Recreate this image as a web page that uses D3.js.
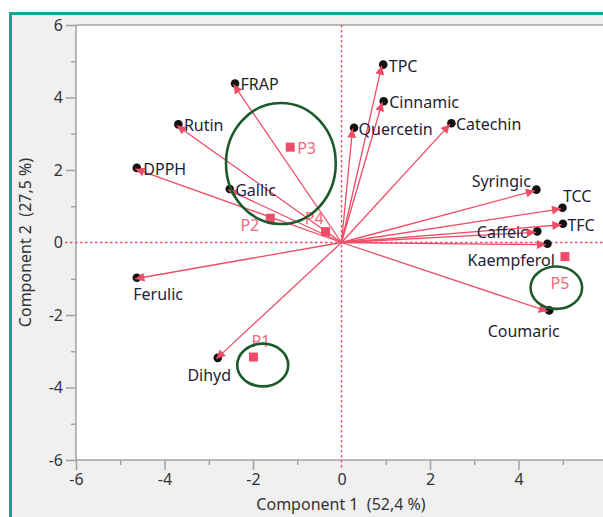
<!DOCTYPE html>
<html><head><meta charset="utf-8">
<script src="https://cdn.jsdelivr.net/npm/d3@7"></script>
<style>html,body{margin:0;padding:0;background:#fff;}svg{display:block;font-family:"Noto Sans","Open Sans",sans-serif;}</style>
</head><body>
<svg id="c" width="603" height="517"></svg>
<script>
// ---- data ----
const varNames = ["FRAP","Rutin","DPPH","Gallic","Ferulic","Dihyd","TPC","Cinnamic","Quercetin","Catechin","Syringic","TCC","TFC","Caffeic","Kaempferol","Coumaric"];
const varX = [-2.44,-3.72,-4.66,-2.56,-4.66,-2.83,0.91,0.92,0.25,2.45,4.37,4.96,4.97,4.39,4.62,4.66];
const varY = [4.36,3.23,2.03,1.45,-1.00,-3.21,4.88,3.87,3.14,3.26,1.43,0.93,0.49,0.28,-0.06,-1.90];
const sampleNames = ["P1","P2","P3","P4","P5"];
const sampleX = [-1.99,-1.61,-1.16,-0.36,5.05];
const sampleY = [-3.16,0.67,2.63,0.30,-0.39];
const ellipseCX = [-1.37,-1.78,4.855];
const ellipseCY = [2.18,-3.38,-1.247];
const ellipseRX = [1.24,0.576,0.583];
const ellipseRY = [1.67,0.59,0.585];
const majorTicks = [-6,-4,-2,0,2,4,6];
const minorTicks = [-5,-3,-1,1,3,5];
const xTitle = "Component 1  (52,4 %)";
const yTitle = "Component 2  (27,5 %)";

// label placement (layout only)
const varLab = {
  FRAP:[7,0,"start"],Rutin:[7,0,"start"],DPPH:[8,0,"start"],Gallic:[7,0,"start"],
  Ferulic:[-2,15,"start"],Dihyd:[-7,16,"middle"],TPC:[7,0,"start"],Cinnamic:[7,0,"start"],
  Quercetin:[6,0,"start"],Catechin:[6,0,"start"],Syringic:[-4,-10,"end"],TCC:[2,-13,"start"],
  TFC:[6,0,"start"],Caffeic:[-8,0,"end"],Kaempferol:[9,15,"end"],Coumaric:[-24,20,"middle"]
};
const sampLab = {P1:[-2,-16,"start"],P2:[-11,7,"end"],P3:[7,1,"start"],P4:[-2,-14,"end"],P5:[-5,26,"middle"]};

const FS = "16px";
const svg = d3.select("#c");
const L=76, R=607, T=25, B=460;
const x = d3.scaleLinear().domain([-6,6]).range([L,R]);
const y = d3.scaleLinear().domain([-6,6]).range([B,T]);
const red = "#ef4d67", green = "#1d5a2b", axisCol = "#a3a3a3", txt = "#1e1e36";

// frame
svg.append("rect").attr("x",10).attr("y",13).attr("width",600).attr("height",510).attr("fill","#f0f0f0");
svg.append("line").attr("x1",9).attr("x2",603).attr("y1",13.5).attr("y2",13.5).attr("stroke","#17a593").attr("stroke-width",3);
svg.append("line").attr("x1",10.5).attr("x2",10.5).attr("y1",12).attr("y2",517).attr("stroke","#17a593").attr("stroke-width",3);
svg.append("rect").attr("x",L).attr("y",T).attr("width",R-L).attr("height",B-T).attr("fill","#fff");

// axes
function styleAxis(g){g.select(".domain").remove();g.selectAll("line").attr("stroke",axisCol).attr("stroke-width",1.5);
  g.selectAll("text").attr("fill","#333").style("font-size",FS).style("font-family",'"Noto Sans",sans-serif');}
const fmt = d=> d<0 ? "-"+Math.abs(d) : String(d);
const gy = svg.append("g").attr("transform",`translate(${L},0)`).call(d3.axisLeft(y).tickValues(majorTicks).tickSize(10).tickPadding(3).tickFormat(fmt)).call(styleAxis);
svg.append("g").attr("transform",`translate(${L},0)`).call(d3.axisLeft(y).tickValues(minorTicks).tickSize(5).tickFormat("")).call(styleAxis);
const gx = svg.append("g").attr("transform",`translate(0,${B})`).call(d3.axisBottom(x).tickValues(majorTicks).tickSize(10).tickPadding(4).tickFormat(fmt)).call(styleAxis);
svg.append("g").attr("transform",`translate(0,${B})`).call(d3.axisBottom(x).tickValues(minorTicks).tickSize(5).tickFormat("")).call(styleAxis);
gy.selectAll(".tick").filter(d=>d===0).select("line").remove();
gx.selectAll(".tick").filter(d=>d===0).select("line").remove();

// border lines
svg.append("line").attr("x1",L).attr("x2",R).attr("y1",T).attr("y2",T).attr("stroke",axisCol).attr("stroke-width",1.5);
svg.append("line").attr("x1",L).attr("x2",L).attr("y1",T).attr("y2",B).attr("stroke",axisCol).attr("stroke-width",1.5);
svg.append("line").attr("x1",L).attr("x2",R).attr("y1",B).attr("y2",B).attr("stroke",axisCol).attr("stroke-width",1.5);

// zero reference lines
svg.append("line").attr("x1",x(-6)-11).attr("x2",R).attr("y1",y(0)).attr("y2",y(0)).attr("stroke",red).attr("stroke-width",1.4).attr("stroke-dasharray","2.5,2.5");
svg.append("line").attr("x1",x(0)).attr("x2",x(0)).attr("y1",T).attr("y2",B+10).attr("stroke",red).attr("stroke-width",1.4).attr("stroke-dasharray","2.5,2.5");

// titles
svg.append("text").attr("x",341).attr("y",510).attr("text-anchor","middle").attr("fill","#333").style("font-size",FS).style("white-space","pre").text(xTitle);
svg.append("text").attr("transform",`translate(31,${y(0)}) rotate(-90)`).attr("text-anchor","middle").attr("fill","#333").style("font-size",FS).style("white-space","pre").text(yTitle);

// arrow marker
svg.append("defs").append("marker").attr("id","ah").attr("viewBox","0 0 10 10").attr("refX",10).attr("refY",5)
  .attr("markerWidth",11).attr("markerHeight",9).attr("markerUnits","userSpaceOnUse").attr("orient","auto")
  .append("path").attr("d","M0,0L10,5L0,10Z").attr("fill",red);

const vars = varNames.map((n,i)=>({n,x:varX[i],y:varY[i]}));
// black dots
svg.append("g").selectAll("circle").data(vars).join("circle")
  .attr("cx",d=>x(d.x)+1.5).attr("cy",d=>y(d.y)-1).attr("r",4.3).attr("fill","#111");
// vectors
svg.append("g").selectAll("line").data(vars).join("line")
  .attr("x1",x(0)).attr("y1",y(0)).attr("x2",d=>x(d.x)).attr("y2",d=>y(d.y))
  .attr("stroke",red).attr("stroke-width",1.3).attr("marker-end","url(#ah)");
// variable labels
svg.append("g").selectAll("text").data(vars).join("text")
  .attr("x",d=>x(d.x)+varLab[d.n][0]).attr("y",d=>y(d.y)+varLab[d.n][1])
  .attr("text-anchor",d=>varLab[d.n][2]).attr("dominant-baseline","central")
  .attr("fill",txt).style("font-size",FS).text(d=>d.n);

// samples
const samps = sampleNames.map((n,i)=>({n,x:sampleX[i],y:sampleY[i]}));
svg.append("g").selectAll("rect").data(samps).join("rect")
  .attr("x",d=>x(d.x)-4.5).attr("y",d=>y(d.y)-4.5).attr("width",9).attr("height",9).attr("fill",red);
svg.append("g").selectAll("text").data(samps).join("text")
  .attr("x",d=>x(d.x)+sampLab[d.n][0]).attr("y",d=>y(d.y)+sampLab[d.n][1])
  .attr("text-anchor",d=>sampLab[d.n][2]).attr("dominant-baseline","central")
  .attr("fill","#f2687c").style("font-size",FS).text(d=>d.n);

// ellipses
svg.append("g").selectAll("ellipse").data(ellipseCX.map((c,i)=>i)).join("ellipse")
  .attr("cx",i=>x(ellipseCX[i])).attr("cy",i=>y(ellipseCY[i]))
  .attr("rx",i=>x(ellipseRX[i])-x(0)).attr("ry",i=>y(0)-y(ellipseRY[i]))
  .attr("fill","none").attr("stroke",green).attr("stroke-width",2.6);
</script>
</body></html>
